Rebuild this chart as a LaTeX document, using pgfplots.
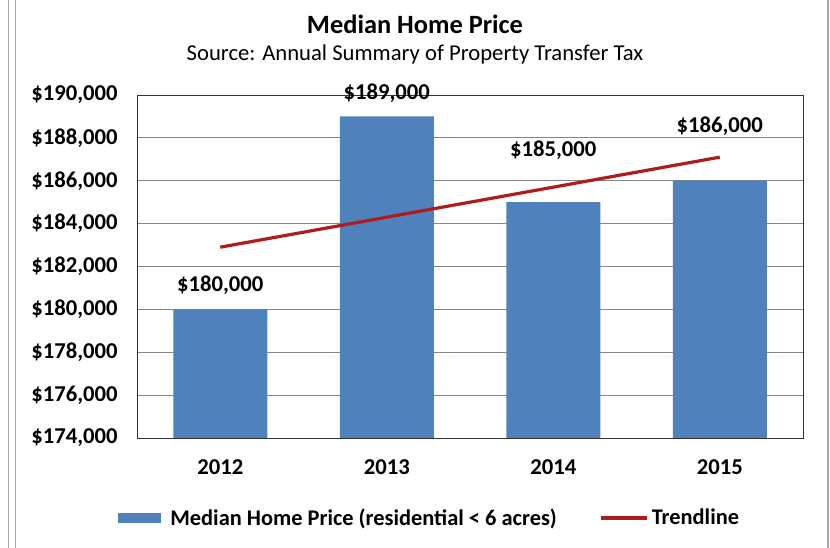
\documentclass[border=0pt]{standalone}
\usepackage{pgfplots}
\pgfplotsset{compat=1.18}
\usepackage{fontspec}
\setmainfont{Carlito}
\definecolor{barblue}{HTML}{4F81BD}
\definecolor{trendred}{RGB}{175,28,30}
\definecolor{gridgray}{RGB}{134,134,134}
\begin{document}
\begin{tikzpicture}
\useasboundingbox (0,0) rectangle (622.5pt,411pt);
\draw[gray!70, line width=0.8pt] (6.5pt,0) -- (6.5pt,411pt);
\draw[gray!70, line width=0.8pt] (11.8pt,0) -- (11.8pt,411pt);
\draw[gray!70, line width=0.8pt] (621pt,0) -- (621pt,411pt);
\node[font=\fontsize{19.8}{22}\selectfont\bfseries] at (311.25pt, 393pt) {Median Home Price};
\node[font=\fontsize{17}{20}\selectfont] at (311.25pt, 370pt) {Source: Annual Summary of Property Transfer Tax};
\begin{axis}[
  at={(102.75pt,82.5pt)}, anchor=south west,
  scale only axis, width=499.5pt, height=257.25pt,
  xmin=-0.5, xmax=3.5, ymin=174000, ymax=190000,
  scaled ticks=false,
  xtick={0,1,2,3}, xticklabels={2012,2013,2014,2015},
  ytick={174000,176000,178000,180000,182000,184000,186000,188000,190000},
  yticklabels={{\$174,000},{\$176,000},{\$178,000},{\$180,000},{\$182,000},{\$184,000},{\$186,000},{\$188,000},{\$190,000}},
  ymajorgrids, grid style={gridgray, line width=0.6pt},
  tick style={draw=none},
  axis line style={black!80, line width=0.7pt},
  ticklabel style={font=\fontsize{17}{20}\selectfont\bfseries},
  xticklabel style={yshift=-12.5pt},
  yticklabel style={xshift=-11pt},
  clip=false,
  legend columns=2,
  legend style={at={(0.44,-0.233)}, anchor=center, draw=none, fill=none,
    font=\fontsize{16.8}{20}\selectfont\bfseries,
    /tikz/every even column/.append style={column sep=30pt}},
]
\addplot[ybar, bar width=70.5pt, fill=barblue, draw=none, bar shift=0pt,
  legend image code/.code={\fill[barblue] (-0.3cm,-0.13cm) rectangle (0.82cm,0.13cm); \path (1.0cm,0cm);}]
  coordinates {(0,180000) (1,189000) (2,185000) (3,186000)};
\addlegendentry{Median Home Price (residential < 6 acres)}
\addplot[trendred, line width=2.4pt, mark=none,
  legend image code/.code={\draw[trendred, line width=2.4pt] (-0.1cm,0cm) -- (1.12cm,0cm);}]
  coordinates {(0,182900) (1,184300) (2,185700) (3,187100)};
\addlegendentry{Trendline}
\node[font=\fontsize{17}{20}\selectfont\bfseries] at (axis cs:0,181137) {\$180,000};
\node[font=\fontsize{17}{20}\selectfont\bfseries] at (axis cs:1,190093) {\$189,000};
\node[font=\fontsize{17}{20}\selectfont\bfseries] at (axis cs:2,187434) {\$185,000};
\node[font=\fontsize{17}{20}\selectfont\bfseries] at (axis cs:3,188554) {\$186,000};
\end{axis}
\end{tikzpicture}
\end{document}
